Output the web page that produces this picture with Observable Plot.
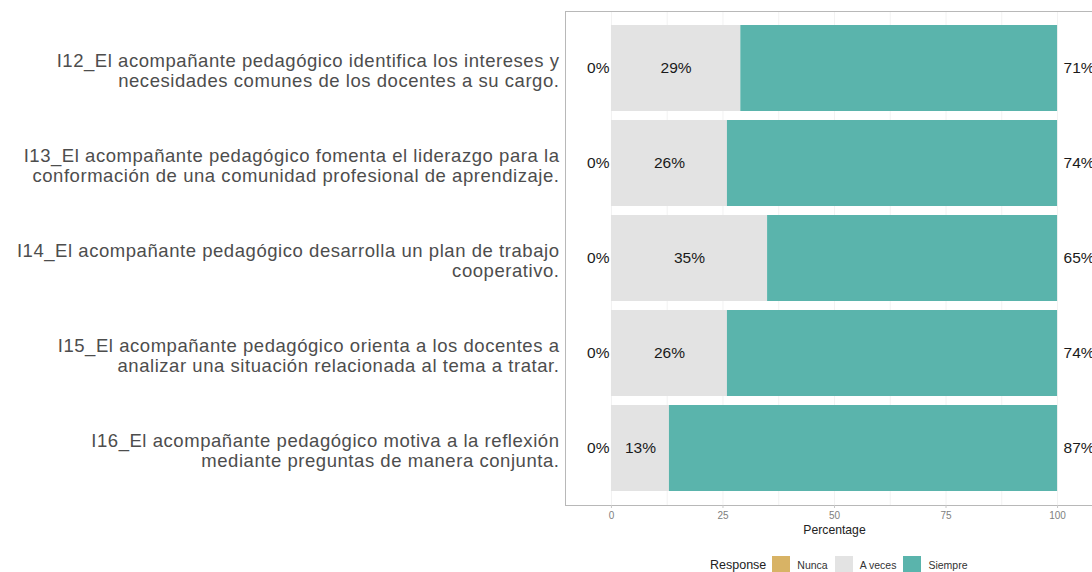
<!DOCTYPE html>
<html>
<head>
<meta charset="utf-8">
<script src="https://cdn.jsdelivr.net/npm/d3@7"></script>
<script src="https://cdn.jsdelivr.net/npm/@observablehq/plot@0.6"></script>
<style>
  html, body { margin: 0; padding: 0; background: #fff; overflow: hidden; width: 1092px; height: 572px; }
  body { font-family: "Liberation Sans", Arial, sans-serif; position: relative; }
  #chart svg { max-width: none !important; display: block; }
  #chart svg g[aria-label="y-axis tick label"] text { letter-spacing: 0.55px; }
  #legend { position: absolute; left: 710px; top: 556px; display: flex; align-items: center; height: 18px; color: #333; }
  #legend .title { font-size: 12.5px; margin-right: 6px; color: #222; }
  #legend .sw { width: 18px; height: 18px; margin-right: 7px; }
  #legend .lab { font-size: 10.5px; margin-right: 7px; color: #333; }
</style>
</head>
<body>
<div id="chart"></div>
<div id="legend"></div>
<script>
// ---- data ----
const items = ["I12", "I13", "I14", "I15", "I16"];
const itemLabels = [
  "I12_El acompañante pedagógico identifica los intereses y\nnecesidades comunes de los docentes a su cargo.",
  "I13_El acompañante pedagógico fomenta el liderazgo para la\nconformación de una comunidad profesional de aprendizaje.",
  "I14_El acompañante pedagógico desarrolla un plan de trabajo\ncooperativo.",
  "I15_El acompañante pedagógico orienta a los docentes a\nanalizar una situación relacionada al tema a tratar.",
  "I16_El acompañante pedagógico motiva a la reflexión\nmediante preguntas de manera conjunta."
];
const responses = ["Nunca", "A veces", "Siempre"];
const responseColors = ["#D8B365", "#E3E3E3", "#5AB4AC"];
const nunca = [0, 0, 0, 0, 0];
const aveces = [29, 26, 35, 26, 13];
const siempre = [71, 74, 65, 74, 87];
const xTicks = [0, 25, 50, 75, 100];
const xTitle = "Percentage";

// ---- build tidy table ----
const series = [nunca, aveces, siempre];
const table = [];
items.forEach((it, i) => {
  responses.forEach((r, j) => table.push({item: it, response: r, value: series[j][i]}));
});
const rows = items.map((it, i) => ({item: it, nunca: nunca[i], aveces: aveces[i], siempre: siempre[i]}));
const labelOf = new Map(items.map((it, i) => [it, itemLabels[i]]));

const chart = Plot.plot({
  width: 1103,
  height: 546,
  marginLeft: 565,
  marginRight: 0,
  marginTop: 11,
  marginBottom: 41,
  style: {fontFamily: "Liberation Sans, Arial, sans-serif", background: "#fff", maxWidth: "none"},
  x: {domain: [-10.3, 110.3], label: null},
  y: {domain: items, paddingInner: 0.1, paddingOuter: 0.15, label: null},
  color: {domain: responses, range: responseColors},
  marks: [
    Plot.ruleX(d3.range(0, 101, 12.5), {stroke: "#f2f2f2", strokeWidth: 1}),
    Plot.barX(table, Plot.stackX({x: "value", y: "item", fill: "response", order: responses})),
    Plot.text(rows, {x: 0, y: "item", text: d => d.nunca + "%", textAnchor: "end", dx: -2, fontSize: 15.5, fill: "#1a1a1a"}),
    Plot.text(rows, {x: d => d.nunca + d.aveces / 2, y: "item", text: d => d.aveces + "%", fontSize: 15.5, fill: "#1a1a1a"}),
    Plot.text(rows, {x: 100, y: "item", text: d => d.siempre + "%", textAnchor: "start", dx: 6, fontSize: 15.5, fill: "#1a1a1a"}),
    Plot.frame({stroke: "#b8b8b8", strokeWidth: 1}),
    Plot.axisX({ticks: xTicks, tickSize: 3, tickPadding: 3, stroke: "#c8c8c8", fill: "#808080", fontSize: 10, label: null}),
    Plot.text([xTitle], {frameAnchor: "bottom", text: d => d, dy: 28, fontSize: 12.2, fill: "#222"}),
    Plot.axisY({tickSize: 0, tickPadding: 6, fontSize: 18.5, fill: "#4d4d4d", lineHeight: 1.08, dy: 2,
                tickFormat: d => labelOf.get(d), label: null})
  ]
});
document.getElementById("chart").appendChild(chart);

// ---- legend ----
const lg = document.getElementById("legend");
const t = document.createElement("span"); t.className = "title"; t.textContent = "Response"; lg.appendChild(t);
responses.forEach((r, i) => {
  const s = document.createElement("span"); s.className = "sw"; s.style.background = responseColors[i]; lg.appendChild(s);
  const l = document.createElement("span"); l.className = "lab"; l.textContent = r; lg.appendChild(l);
});
</script>
</body>
</html>
